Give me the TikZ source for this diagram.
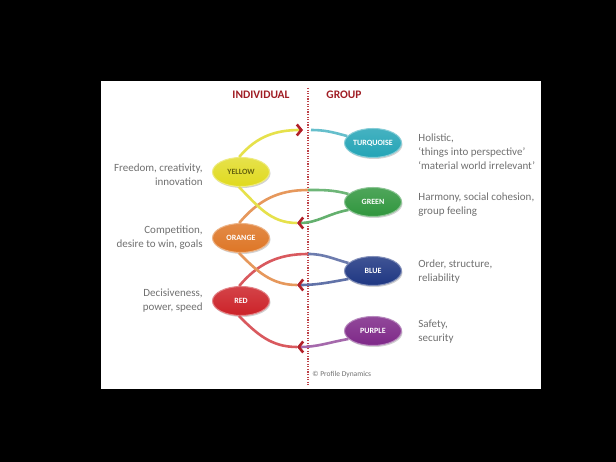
\documentclass[tikz,border=0pt]{standalone}
\usepackage{fontspec}
\setmainfont{Carlito}
\usetikzlibrary{arrows.meta,shadows,shapes.geometric}
\definecolor{cyellow}{RGB}{224,218,30}
\definecolor{corange}{RGB}{222,118,38}
\definecolor{cred}{RGB}{204,34,40}
\definecolor{cturq}{RGB}{36,164,182}
\definecolor{cgreen}{RGB}{48,150,62}
\definecolor{cblue}{RGB}{30,54,130}
\definecolor{cpurple}{RGB}{126,40,136}
\definecolor{chev}{RGB}{178,32,40}
\definecolor{txt}{RGB}{112,112,112}
\begin{document}
\begin{tikzpicture}[x=1pt,y=1pt,thick,>=latex]
  \tikzstyle{level}=[ellipse,minimum width=57pt,minimum height=29pt,inner sep=0pt,
    line width=1pt,font=\fontsize{8}{9}\selectfont\bfseries,text=white,
    drop shadow={opacity=0.35,shadow xshift=1pt,shadow yshift=-1.5pt}]
  \tikzstyle{head}=[font=\fontsize{11.5}{13}\selectfont\bfseries,text=chev!90!black]
  \tikzstyle{note}=[font=\fontsize{11}{14}\selectfont,text=txt,inner sep=0pt]
  \tikzstyle{link}=[line width=2.6pt]
  \tikzstyle{barb}=[-{Straight Barb[length=4.5pt,width=11pt,line width=2.6pt,color=chev]}]
  \def\xl{241}	% x of individual column
  \def\xr{373}	% x of group column
  \def\xd{308}	% x of dividing line
  \def\xa{297}	% x of returning chevrons
  % background and panel
  \useasboundingbox (0,0) rectangle (616,462);
  \fill[black] (0,0) rectangle (616,462);
  \fill[white] (101,73) rectangle (541,381);
  % dividing line
  \coordinate (dtop) at (\xd,374);
  \coordinate (dbot) at (\xd,77);
  \draw[chev!85!white,line width=1.2pt,dash pattern=on 1.3pt off 1.3pt] (dtop) -- (dbot);
  \node[head] (ind) at (261,367) {INDIVIDUAL};
  \node[head] (grp) at (344,367) {GROUP};
  % levels
  \node[level,top color=cyellow!80!white,bottom color=cyellow,draw=cyellow!55!white,
    text=black!55!cyellow] (yellow) at (\xl,290) {YELLOW};
  \node[level,top color=corange!85!white,bottom color=corange,draw=corange!55!white] (orange) at (\xl,224) {ORANGE};
  \node[level,top color=cred!85!white,bottom color=cred,draw=cred!55!white] (red) at (\xl,161) {RED};
  \node[level,top color=cturq!85!white,bottom color=cturq,draw=cturq!55!white] (turq) at (\xr,319) {TURQUOISE};
  \node[level,top color=cgreen!85!white,bottom color=cgreen,draw=cgreen!55!white] (green) at (\xr,260) {GREEN};
  \node[level,top color=cblue!85!white,bottom color=cblue,draw=cblue!55!white] (blue) at (\xr,191) {BLUE};
  \node[level,top color=cpurple!85!white,bottom color=cpurple,draw=cpurple!55!white] (purple) at (\xr,131) {PURPLE};
  % points on the dividing line
  \coordinate (a1) at (303,332);
  \coordinate (t1) at (311,332);
  \coordinate (b1) at (\xd,272);
  \coordinate (a2) at (\xa,239);
  \coordinate (b2) at (\xd,208);
  \coordinate (a3) at (\xa,177);
  \coordinate (a4) at (\xa,115);
  % links
  \draw[link,barb,cyellow!80!white] (yellow.97) to[out=50,in=180] (a1);
  \draw[link,cturq!70!white] (t1) to[out=0,in=165] (turq.165);
  \draw[link,corange!75!white] (orange.97) to[out=50,in=180] (b1);
  \draw[link,cgreen!70!white] (b1) to[out=0,in=165] (green.162);
  \draw[link,barb,cgreen!75!white] (green.198) to[out=190,in=0] (a2);
  \draw[link,cyellow!80!white] (a2) to[out=180,in=-45] (yellow.262);
  \draw[link,cred!75!white] (red.97) to[out=50,in=180] (b2);
  \draw[link,cblue!65!white] (b2) to[out=0,in=165] (blue.162);
  \draw[link,barb,cblue!70!white] (blue.198) to[out=190,in=0] (a3);
  \draw[link,corange!75!white] (a3) to[out=180,in=-45] (orange.262);
  \draw[link,barb,cpurple!70!white] (purple.198) to[out=190,in=0] (a4);
  \draw[link,cred!75!white] (a4) to[out=180,in=-45] (red.262);
  % descriptions
  \node[note,anchor=east,align=right] (dyellow) at (203,287) {Freedom, creativity,\\innovation};
  \node[note,anchor=east,align=right] (dorange) at (203,224) {Competition,\\desire to win, goals};
  \node[note,anchor=east,align=right] (dred) at (203,161) {Decisiveness,\\power, speed};
  \node[note,anchor=west,align=left] (dturq) at (418,310) {Holistic,\\‘things into perspective’\\‘material world irrelevant’};
  \node[note,anchor=west,align=left] (dgreen) at (418,257) {Harmony, social cohesion,\\group feeling};
  \node[note,anchor=west,align=left] (dblue) at (418,190) {Order, structure,\\reliability};
  \node[note,anchor=west,align=left] (dpurple) at (418,130) {Safety,\\security};
  \node[note,anchor=west,font=\fontsize{7.5}{8}\selectfont] (copy) at (312,87) {© Profile Dynamics};
\end{tikzpicture}
\end{document}
